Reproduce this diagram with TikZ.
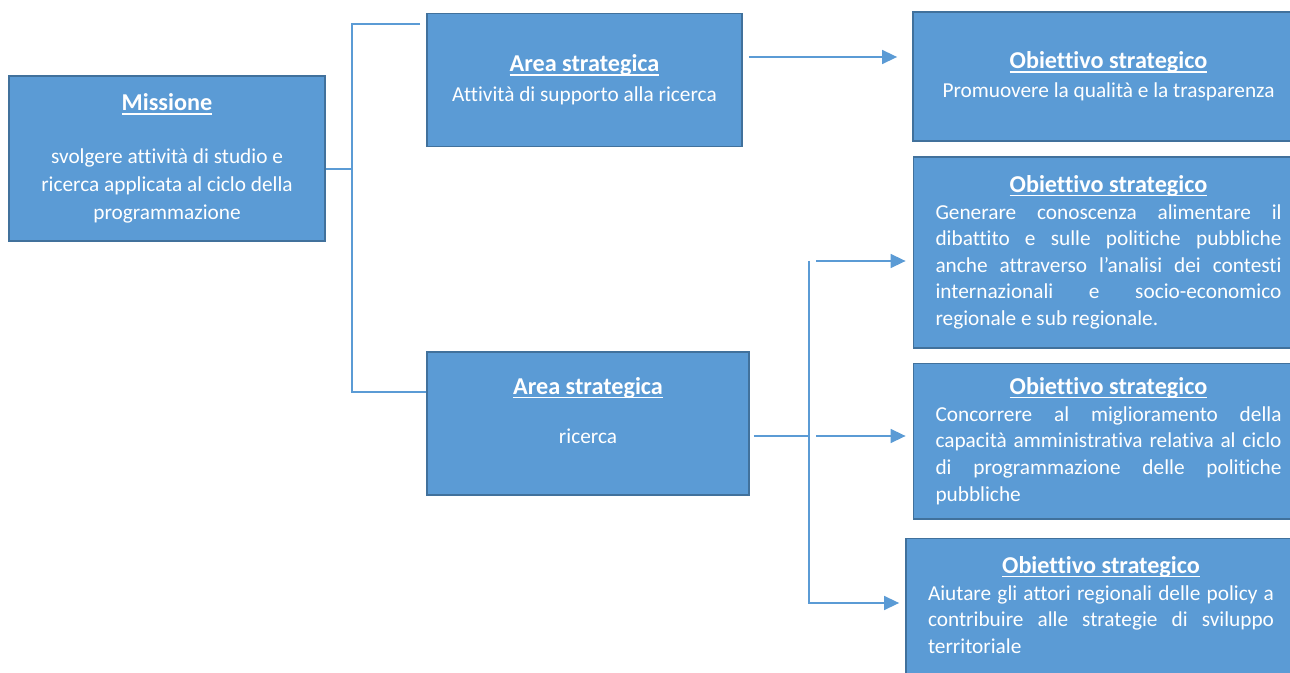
\documentclass[tikz,border=0pt]{standalone}
\usepackage{fontspec}
\setmainfont{Carlito}[Ligatures=NoCommon]
\usepackage{tikz}
\usetikzlibrary{positioning, arrows.meta}

\definecolor{boxblue}{HTML}{5B9BD5}
\definecolor{boxedge}{HTML}{41719C}
\newsavebox{\ttlbox}
\newcommand{\ttl}[1]{{\fontsize{12.1}{14}\selectfont\bfseries
  \sbox{\ttlbox}{#1}\rlap{\rule[-1.9pt]{\wd\ttlbox}{0.6pt}}\usebox{\ttlbox}}}
\hyphenpenalty=10000
\exhyphenpenalty=10000
\tolerance=10000

\begin{document}
\begin{tikzpicture}[x=0.5pt, y=-0.5pt, font=\fontsize{10.65}{13.3}\selectfont,
        box/.style={draw=boxedge, fill=boxblue, line width=0.9pt, text=white, inner sep=0pt},
        midbox/.style={box, align=center},
        objbox/.style={box, minimum width=195pt, text width=173pt, align=justify},
        conn/.style={draw=boxblue, line width=0.75pt},
        arr/.style={conn, -{Triangle[length=7.5pt, width=7pt]}}]
      \clip (0,0) rectangle (1290,673);
      \node[midbox, minimum width=158pt, minimum height=82.5pt] (mis) at (167,158.5)
        {\ttl{Missione}\\[13pt] svolgere attività di studio e\\[0.7pt] ricerca applicata al ciclo della\\[0.7pt] programmazione};
      \node[midbox, minimum width=157.5pt, minimum height=66.5pt] (area1) at (584.5,80)
        {\ttl{Area strategica}\\[1.7pt] Attività di supporto alla ricerca};
      \node[midbox, minimum width=161pt, minimum height=71.5pt] (area2) at (588,423.5)
        {\ttl{Area strategica}\\[11.2pt] ricerca\\ \mbox{}};
      \node[midbox, minimum width=195.5pt, minimum height=64.5pt] (obj1) at (1108.5,76.5)
        {\ttl{Obiettivo strategico}\\[1.2pt] Promuovere la qualità e la trasparenza};
      \node[objbox, minimum height=95.5pt, below=7pt of obj1] (obj2)
        {{\centering\ttl{Obiettivo strategico}\par}
         Generare conoscenza alimentare il\linebreak dibattito e sulle politiche pubbliche\linebreak
         anche attraverso l’analisi dei contesti\linebreak internazionali e socio-economico\linebreak
         regionale e sub regionale.};
      \node[objbox, minimum height=77.5pt, below=7pt of obj2] (obj3)
        {{\centering\ttl{Obiettivo strategico}\par}
         Concorrere al miglioramento della\linebreak capacità amministrativa relativa al ciclo\linebreak
         di programmazione delle politiche\linebreak pubbliche};
      \node[objbox, minimum height=75pt, below=9pt of obj3, xshift=-3.75pt] (obj4)
        {{\centering\ttl{Obiettivo strategico}\par}
         Aiutare gli attori regionali delle policy a\linebreak contribuire alle strategie di sviluppo\linebreak
         territoriale\par\vspace*{8.5pt}};
      % junctions
      \coordinate (j1) at (352,169);
      \coordinate (j1t) at (352,24);
      \coordinate (j1b) at (352,392);
      \coordinate (ya) at (0,57);
      \coordinate (j2) at (809,436);
      \coordinate (j2t) at (809,261);
      \coordinate (j2b) at (809,603);
      \draw[conn] (mis.east |- j1) -- (j1);
      \draw[conn, shorten <=3pt] (area1.west |- j1t) -- (j1t) -- (j1b) -- (area2.west |- j1b);
      \draw[arr, shorten <=3pt, shorten >=7.5pt] (area1.east |- ya) -- (obj1.west |- ya);
      \draw[conn, shorten <=2pt] (area2.east |- j2) -- (j2);
      \draw[arr, shorten >=3pt] (j2t) -- (j2b) -- (obj4.west |- j2b);
      \draw[arr, shorten <=3.5pt, shorten >=3.5pt] (j2t) -- (obj2.west |- j2t);
      \draw[arr, shorten <=3.5pt, shorten >=3.5pt] (j2) -- (obj3.west |- j2);
    \end{tikzpicture}
\end{document}
